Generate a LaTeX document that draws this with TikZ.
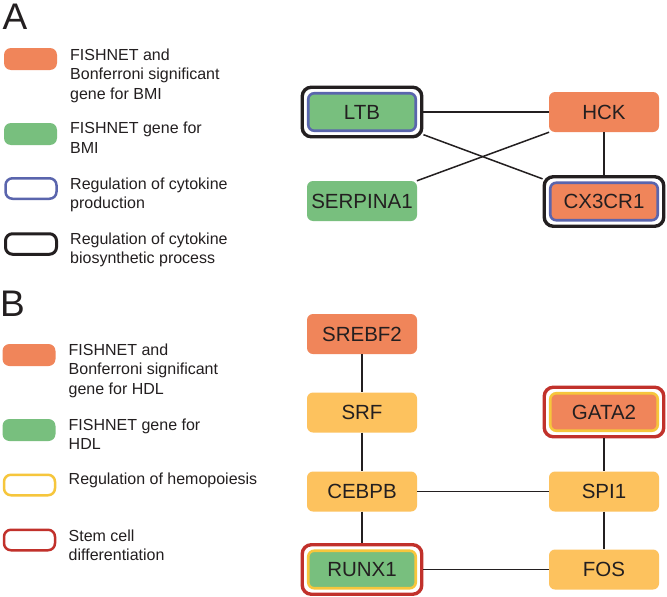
\documentclass[tikz,border=0pt]{standalone}
\usepackage{fontspec}
\setmainfont{Liberation Sans}
\definecolor{orangeF}{HTML}{F0855A}
\definecolor{greenF}{HTML}{78BF7E}
\definecolor{blueB}{HTML}{5A65AD}
\definecolor{yelF}{HTML}{FDC25E}
\definecolor{yelB}{HTML}{F6C63C}
\definecolor{redB}{HTML}{C1312B}
\definecolor{txt}{HTML}{231F20}
\newcommand{\legtxt}[1]{\parbox[t]{230pt}{\raggedright\fontsize{16}{19.5}\selectfont #1}}
\begin{document}
\begin{tikzpicture}[x=1pt,y=-1pt,
  gene/.style={rounded corners=6pt, minimum width=110pt, minimum height=40pt, inner sep=0pt,
    font=\fontsize{20.5}{24}\selectfont, text=txt},
  ingene/.style={gene, minimum width=107.5pt, minimum height=37.5pt, line width=2.6pt},
  ring/.style={rounded corners=9pt, minimum width=119.5pt, minimum height=49.5pt, line width=3.4pt, inner sep=0pt},
  edge/.style={line width=1.5pt, txt},
  legbox/.style={rounded corners=7pt, minimum width=53pt, minimum height=22pt, inner sep=0pt},
  legline/.style={legbox, minimum width=51pt, minimum height=20.5pt, fill=white},
  legtext/.style={anchor=base west, inner sep=0pt, text=txt},
  panel/.style={anchor=base west, inner sep=0pt, font=\fontsize{37}{40}\selectfont, text=txt}]
\useasboundingbox[fill=white] (0,0) rectangle (667,597);

% ---------- Panel A ----------
\node[panel] (lA) at (2.5,29) {A};

\node[legbox, fill=orangeF] (la1) at (30.5,59) {};
\node[legtext] (ta1) at (70,60) {\legtxt{FISHNET and\\Bonferroni significant\\gene for BMI}};
\node[legbox, fill=greenF] (la2) at (30.5,134) {};
\node[legtext] (ta2) at (70,133.5) {\legtxt{FISHNET gene for\\BMI}};
\node[legline, draw=blueB, line width=2.5pt] (la3) at (31,188.5) {};
\node[legtext] (ta3) at (70,189) {\legtxt{Regulation of cytokine\\production}};
\node[legline, draw=txt, line width=3pt] (la4) at (31,244) {};
\node[legtext] (ta4) at (70,244) {\legtxt{Regulation of cytokine\\biosynthetic process}};

\node[ring, draw=txt] (ltbo) at (362,112) {};
\node[ingene, fill=greenF, draw=blueB] (ltb) at (362,112) {LTB};
\node[gene, fill=orangeF] (hck) at (604,112) {HCK};
\node[gene, fill=greenF] (serp) at (362,201) {SERPINA1};
\node[ring, draw=txt] (cx3o) at (604,201.5) {};
\node[ingene, fill=orangeF, draw=blueB] (cx3) at (604,201.5) {CX3CR1};

\draw[edge] (ltbo) -- (hck);
\draw[edge] (ltbo) -- (cx3o);
\draw[edge] (serp) -- (hck);
\draw[edge] (hck) -- (cx3o);

% ---------- Panel B ----------
\node[panel] (lB) at (0,316) {B};

\node[legbox, fill=orangeF] (lb1) at (29,355) {};
\node[legtext] (tb1) at (68.5,355) {\legtxt{FISHNET and\\Bonferroni significant\\gene for HDL}};
\node[legbox, fill=greenF] (lb2) at (29,430) {};
\node[legtext] (tb2) at (68.5,430) {\legtxt{FISHNET gene for\\HDL}};
\node[legline, draw=yelB, line width=2.5pt] (lb3) at (29.5,485) {};
\node[legtext] (tb3) at (68.5,484.5) {\legtxt{Regulation of hemopoiesis}};
\node[legline, draw=redB, line width=2.5pt] (lb4) at (29.5,540) {};
\node[legtext] (tb4) at (68.5,541) {\legtxt{Stem cell\\differentiation}};

\node[gene, fill=orangeF] (srebf) at (362,334) {SREBF2};
\node[gene, fill=yelF] (srf) at (362,412.5) {SRF};
\node[gene, fill=yelF] (cebpb) at (362,491.5) {CEBPB};
\node[ring, draw=redB] (runxo) at (362,569.5) {};
\node[ingene, fill=greenF, draw=yelB] (runx) at (362,569.5) {RUNX1};
\node[ring, draw=redB] (gatao) at (604,412) {};
\node[ingene, fill=orangeF, draw=yelB] (gata) at (604,412) {GATA2};
\node[gene, fill=yelF] (spi) at (604,491.5) {SPI1};
\node[gene, fill=yelF] (fos) at (604,569.5) {FOS};

\draw[edge] (srebf) -- (srf);
\draw[edge] (srf) -- (cebpb);
\draw[edge] (cebpb) -- (runxo);
\draw[edge] (cebpb) -- (spi);
\draw[edge] (gatao) -- (spi);
\draw[edge] (spi) -- (fos);
\draw[edge] (runxo) -- (fos);
\end{tikzpicture}
\end{document}
